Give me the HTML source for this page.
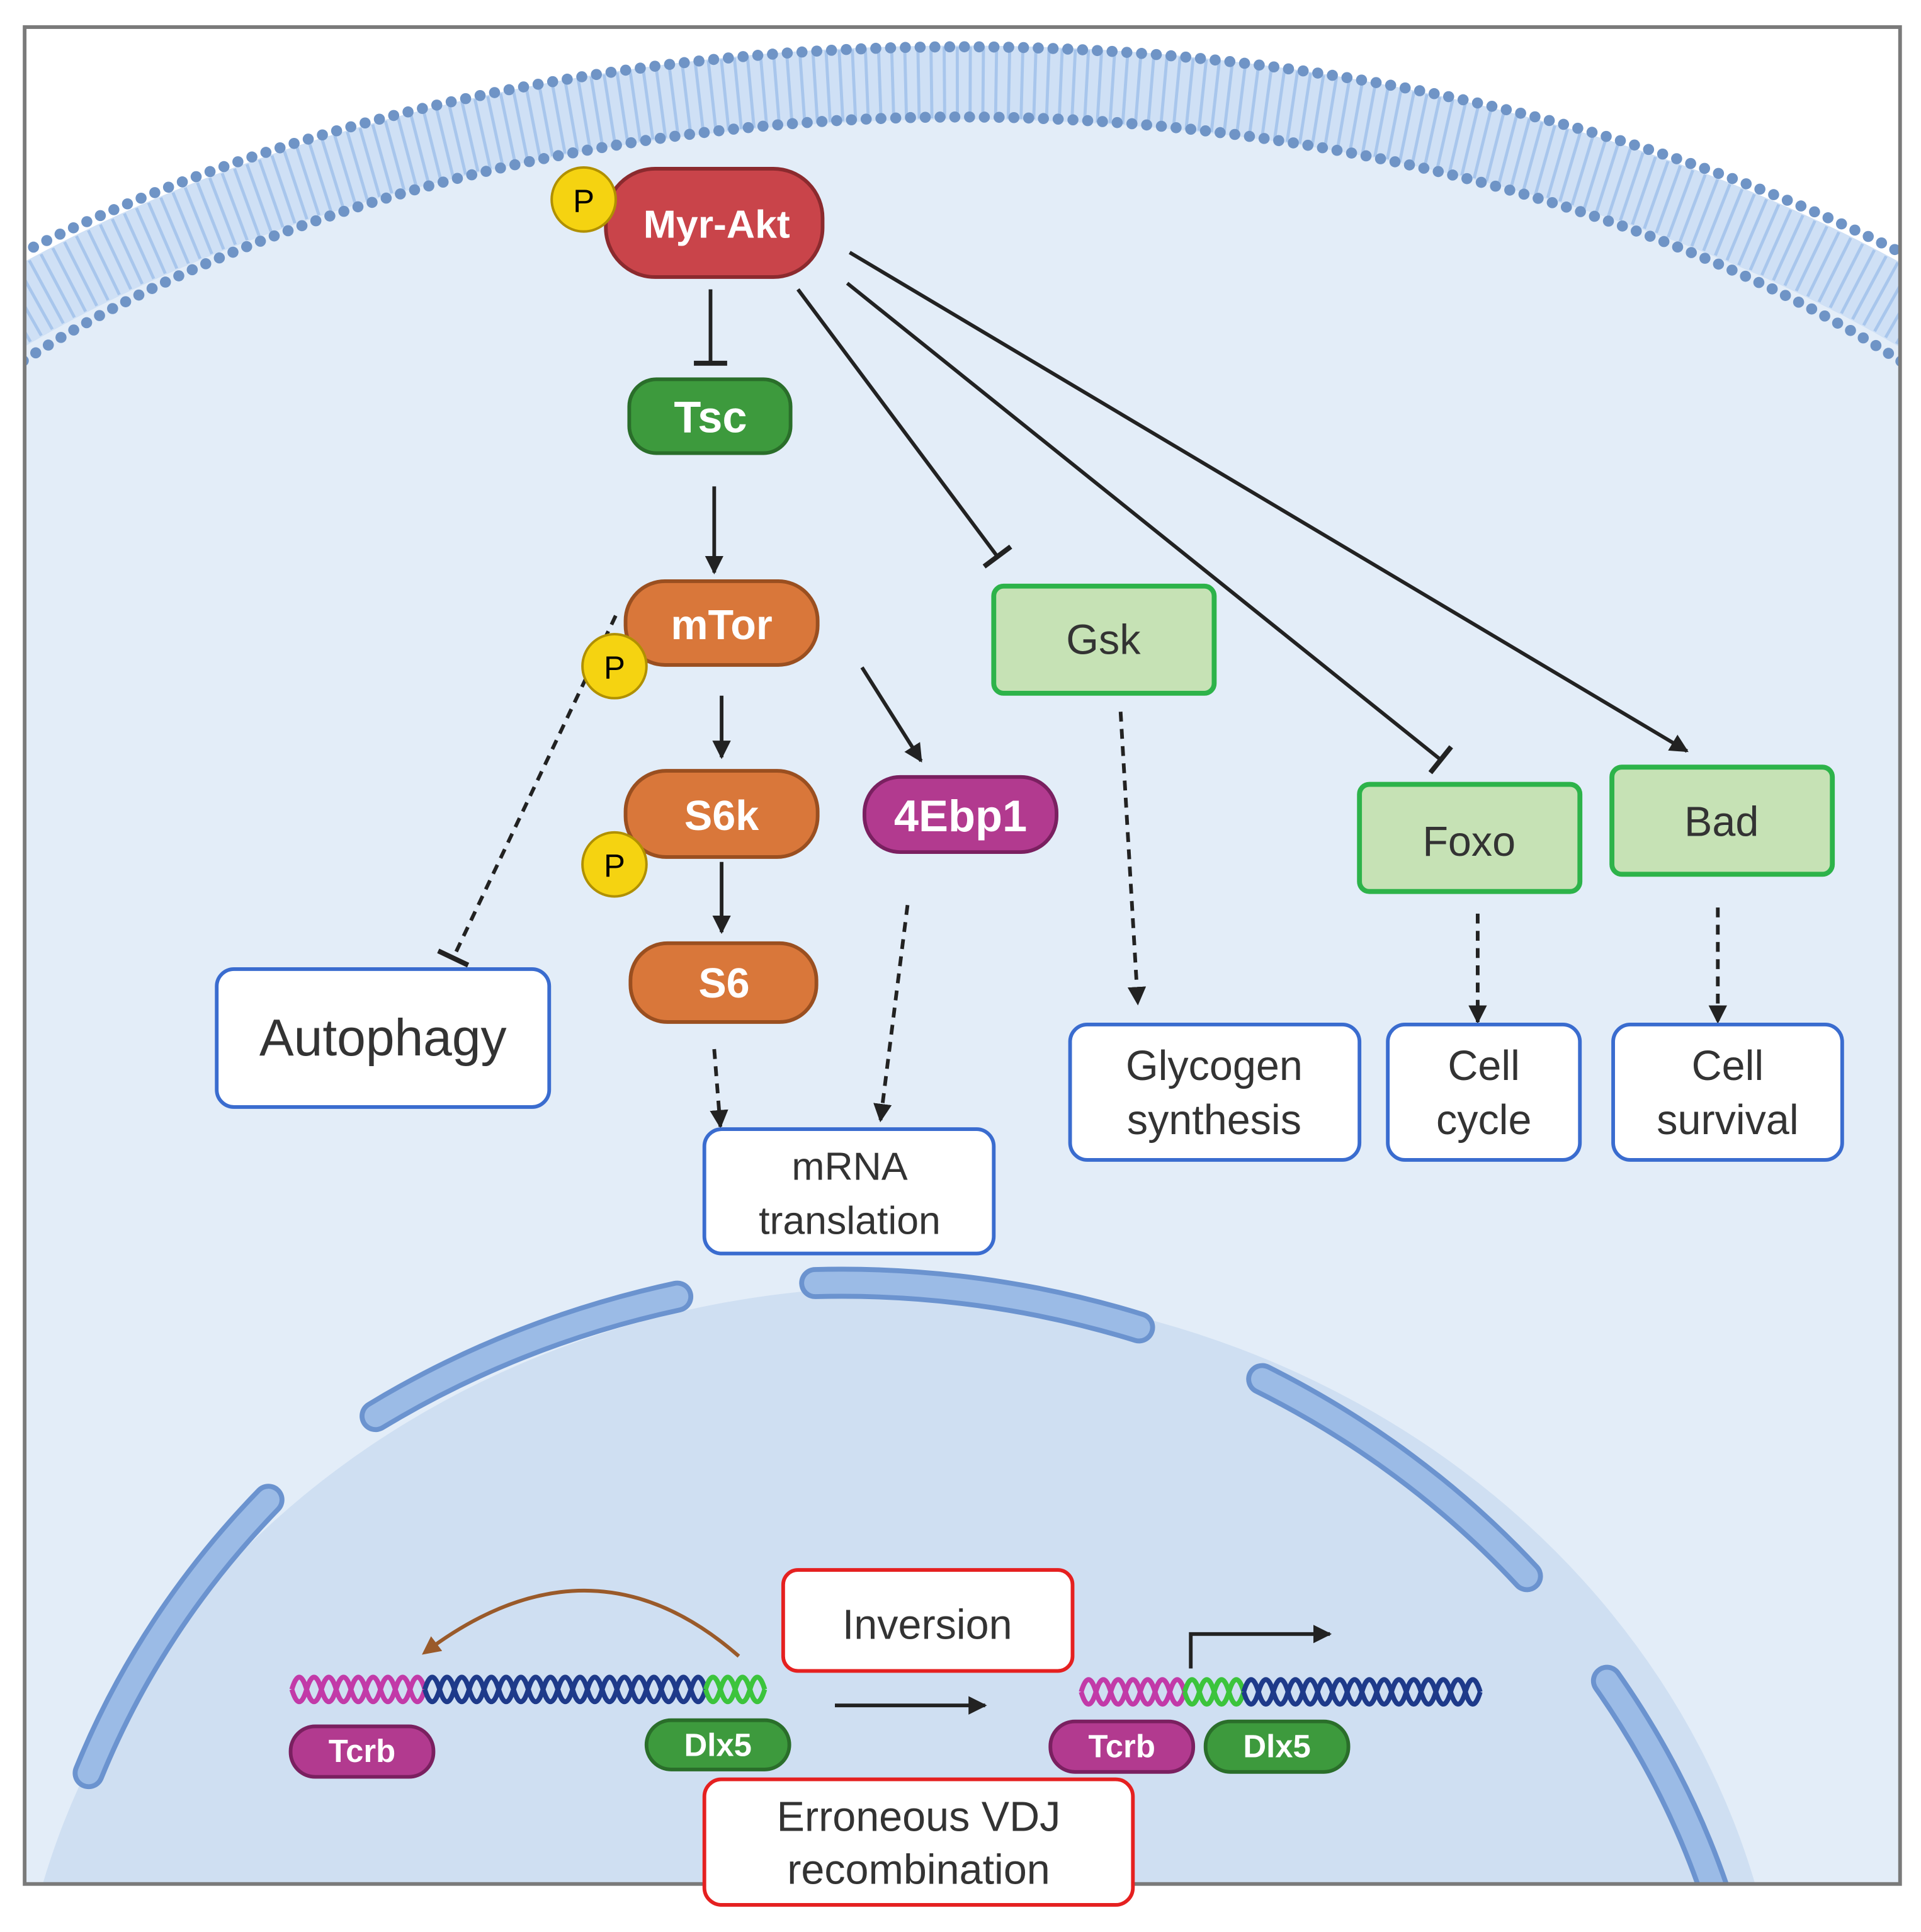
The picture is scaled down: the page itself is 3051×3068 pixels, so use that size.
<!DOCTYPE html>
<html><head><meta charset="utf-8"><style>
html,body{margin:0;padding:0;background:#fff;overflow:hidden;}
svg{display:block;}
text{font-family:"Liberation Sans",sans-serif;}
</style></head><body>
<svg width="3051" height="3068" viewBox="0 0 1560 1569" preserveAspectRatio="none" xmlns="http://www.w3.org/2000/svg">
<defs>
<clipPath id="fr"><rect x="20" y="22" width="1523" height="1508"/></clipPath>
<clipPath id="top"><rect x="0" y="0" width="1560" height="650"/></clipPath>
<marker id="a" viewBox="0 0 10 10" refX="9" refY="5" markerWidth="5" markerHeight="5" orient="auto"><path d="M0 0L10 5L0 10z" fill="#222"/></marker>
<marker id="ab" viewBox="0 0 10 10" refX="8" refY="5" markerWidth="5" markerHeight="5" orient="auto"><path d="M0 0L10 5L0 10z" fill="#9a5a2a"/></marker>
<marker id="t" viewBox="0 0 10 10" refX="5" refY="5" markerWidth="9" markerHeight="9" orient="auto"><path d="M5 0V10" stroke="#222" stroke-width="1.5"/></marker>
</defs>
<rect width="1560" height="1569" fill="#fff"/>
<g clip-path="url(#fr)">
<rect x="20" y="22" width="1523" height="1508" fill="#fff"/>
<rect x="0" y="600" width="1560" height="969" fill="#e3edf8"/>
<g clip-path="url(#top)">
<ellipse cx="781" cy="700" rx="1060" ry="620" fill="#e3edf8"/>
<ellipse cx="781" cy="700" rx="1090" ry="633" fill="none" stroke="#cfe0f5" stroke-width="60"/>
<ellipse cx="781" cy="700" rx="1090" ry="633" fill="none" stroke="#a8c6ec" stroke-width="58" stroke-dasharray="2.5 8"/>
<ellipse cx="781" cy="700" rx="1148" ry="662" fill="none" stroke="#6f94c6" stroke-width="9" stroke-linecap="round" stroke-dasharray="0 12"/>
<ellipse cx="781" cy="700" rx="1030" ry="605" fill="none" stroke="#6f94c6" stroke-width="9" stroke-linecap="round" stroke-dasharray="0 12"/>
</g>
<ellipse cx="730" cy="1700" rx="720" ry="655" fill="#cfdff2"/>
<g fill="none" stroke-linecap="round">
<g stroke="#6b93cf" stroke-width="26">
<path d="M72 1440 A760 700 0 0 1 218 1218"/>
<path d="M305 1150 A760 700 0 0 1 550 1053"/>
<path d="M662 1042 A760 700 0 0 1 925 1078"/>
<path d="M1025 1120 A760 700 0 0 1 1240 1280"/>
<path d="M1305 1365 A760 700 0 0 1 1400 1560"/>
</g>
<g stroke="#9bbbe6" stroke-width="18">
<path d="M72 1440 A760 700 0 0 1 218 1218"/>
<path d="M305 1150 A760 700 0 0 1 550 1053"/>
<path d="M662 1042 A760 700 0 0 1 925 1078"/>
<path d="M1025 1120 A760 700 0 0 1 1240 1280"/>
<path d="M1305 1365 A760 700 0 0 1 1400 1560"/>
</g>
</g>
</g>
<rect x="20" y="22" width="1523" height="1508" fill="none" stroke="#7a7a7a" stroke-width="3"/>

<g stroke="#222" stroke-width="3" fill="none">
<path d="M577 235V295" marker-end="url(#t)"/>
<path d="M580 395V465" marker-end="url(#a)"/>
<path d="M586 565V615" marker-end="url(#a)"/>
<path d="M586 700V757" marker-end="url(#a)"/>
<path d="M700 542L748 618" marker-end="url(#a)"/>
<path d="M500 500L368 778" stroke-dasharray="8 6" marker-end="url(#t)"/>
<path d="M580 852L585 915" stroke-dasharray="8 6" marker-end="url(#a)"/>
<path d="M737 735L715 910" stroke-dasharray="8 6" marker-end="url(#a)"/>
<path d="M648 235L810 452" marker-end="url(#t)"/>
<path d="M688 230L1170 617" marker-end="url(#t)"/>
<path d="M690 205L1370 610" marker-end="url(#a)"/>
<path d="M910 578L924 815" stroke-dasharray="8 6" marker-end="url(#a)"/>
<path d="M1200 742V830" stroke-dasharray="8 6" marker-end="url(#a)"/>
<path d="M1395 737V830" stroke-dasharray="8 6" marker-end="url(#a)"/>
<path d="M678 1385H800" marker-end="url(#a)"/>
<path d="M967 1355V1327H1080" marker-end="url(#a)"/>
<path d="M600 1345Q480 1240 345 1342" stroke="#9a5a2a" marker-end="url(#ab)"/>
</g>

<g font-weight="bold" fill="#fff" text-anchor="middle">
<rect x="492" y="137" width="176" height="88" rx="40" fill="#c9444a" stroke="#8b2a2e" stroke-width="3"/>
<text x="582" y="193" font-size="32" fill="#fff">Myr-Akt</text>
<rect x="511" y="308" width="131" height="60" rx="22" fill="#3d9a3d" stroke="#2a6e2a" stroke-width="3"/>
<text x="577" y="351" font-size="36" fill="#fff">Tsc</text>
<rect x="508" y="472" width="156" height="68" rx="32" fill="#d9773a" stroke="#9a4f20" stroke-width="3"/>
<text x="586" y="519" font-size="34" fill="#fff">mTor</text>
<rect x="508" y="626" width="156" height="70" rx="33" fill="#d9773a" stroke="#9a4f20" stroke-width="3"/>
<text x="586" y="674" font-size="34" fill="#fff">S6k</text>
<rect x="512" y="766" width="151" height="64" rx="30" fill="#d9773a" stroke="#9a4f20" stroke-width="3"/>
<text x="588" y="810" font-size="34" fill="#fff">S6</text>
<rect x="702" y="631" width="156" height="61" rx="29" fill="#b23a8f" stroke="#7a2060" stroke-width="3"/>
<text x="780" y="675" font-size="36" fill="#fff">4Ebp1</text>
</g>
<g text-anchor="middle" font-size="26">
<circle cx="474" cy="162" r="26" fill="#f5d311" stroke="#b09000" stroke-width="2"/><text x="474" y="172">P</text>
<circle cx="499" cy="541" r="26" fill="#f5d311" stroke="#b09000" stroke-width="2"/><text x="499" y="551">P</text>
<circle cx="499" cy="702" r="26" fill="#f5d311" stroke="#b09000" stroke-width="2"/><text x="499" y="712">P</text>
</g>

<g fill="#c6e2b5" stroke="#2db34a" stroke-width="4">
<rect x="807" y="476" width="179" height="87" rx="8"/>
<rect x="1104" y="637" width="179" height="87" rx="8"/>
<rect x="1309" y="623" width="179" height="87" rx="8"/>
</g>
<g text-anchor="middle" font-size="34" fill="#333">
<text x="896" y="531">Gsk</text>
<text x="1193" y="695">Foxo</text>
<text x="1398" y="679">Bad</text>
</g>

<g fill="#fff" stroke="#3a6ccf" stroke-width="3">
<rect x="176" y="787" width="270" height="112" rx="14"/>
<rect x="572" y="917" width="235" height="101" rx="14"/>
<rect x="869" y="832" width="235" height="110" rx="14"/>
<rect x="1127" y="832" width="156" height="110" rx="14"/>
<rect x="1310" y="832" width="186" height="110" rx="14"/>
</g>
<g fill="#fff" stroke="#e52020" stroke-width="3">
<rect x="636" y="1275" width="235" height="82" rx="12"/>
<rect x="572" y="1445" width="348" height="102" rx="14"/>
</g>
<g text-anchor="middle" fill="#333">
<text x="311" y="857" font-size="42">Autophagy</text>
<text x="690" y="958" font-size="32">mRNA</text>
<text x="690" y="1002" font-size="32">translation</text>
<text x="986" y="877" font-size="34">Glycogen</text>
<text x="986" y="921" font-size="34">synthesis</text>
<text x="1205" y="877" font-size="34">Cell</text>
<text x="1205" y="921" font-size="34">cycle</text>
<text x="1403" y="877" font-size="34">Cell</text>
<text x="1403" y="921" font-size="34">survival</text>
<text x="753" y="1331" font-size="34">Inversion</text>
<text x="746" y="1487" font-size="34">Erroneous VDJ</text>
<text x="746" y="1530" font-size="34">recombination</text>
</g>

<g fill="none" stroke-width="4">
<path d="M237 1372q6 -20 12 0t12 0t12 0t12 0t12 0t12 0t12 0t12 0t12 0" stroke="#c23aa8"/>
<path d="M237 1372q6 20 12 0t12 0t12 0t12 0t12 0t12 0t12 0t12 0t12 0" stroke="#c23aa8"/>
<path d="M345 1372q6 -20 12 0t12 0t12 0t12 0t12 0t12 0t12 0t12 0t12 0t12 0t12 0t12 0t12 0t12 0t12 0t12 0t12 0t12 0t12 0" stroke="#1e3a8a"/>
<path d="M345 1372q6 20 12 0t12 0t12 0t12 0t12 0t12 0t12 0t12 0t12 0t12 0t12 0t12 0t12 0t12 0t12 0t12 0t12 0t12 0t12 0" stroke="#1e3a8a"/>
<path d="M573 1372q6 -20 12 0t12 0t12 0t12 0" stroke="#3cc43c"/>
<path d="M573 1372q6 20 12 0t12 0t12 0t12 0" stroke="#3cc43c"/>
<path d="M878 1374q6 -20 12 0t12 0t12 0t12 0t12 0t12 0t12 0" stroke="#c23aa8"/>
<path d="M878 1374q6 20 12 0t12 0t12 0t12 0t12 0t12 0t12 0" stroke="#c23aa8"/>
<path d="M962 1374q6 -20 12 0t12 0t12 0t12 0" stroke="#3cc43c"/>
<path d="M962 1374q6 20 12 0t12 0t12 0t12 0" stroke="#3cc43c"/>
<path d="M1010 1374q6 -20 12 0t12 0t12 0t12 0t12 0t12 0t12 0t12 0t12 0t12 0t12 0t12 0t12 0t12 0t12 0t12 0" stroke="#1e3a8a"/>
<path d="M1010 1374q6 20 12 0t12 0t12 0t12 0t12 0t12 0t12 0t12 0t12 0t12 0t12 0t12 0t12 0t12 0t12 0t12 0" stroke="#1e3a8a"/>
</g>
<g stroke-width="3">
<rect x="236" y="1402" width="116" height="41" rx="20" fill="#b23a8f" stroke="#7a2060"/>
<rect x="525" y="1397" width="116" height="40" rx="20" fill="#3d9a3d" stroke="#2a6e2a"/>
<rect x="853" y="1398" width="116" height="41" rx="20" fill="#b23a8f" stroke="#7a2060"/>
<rect x="979" y="1398" width="116" height="41" rx="20" fill="#3d9a3d" stroke="#2a6e2a"/>
</g>
<g text-anchor="middle" font-size="26" font-weight="bold" fill="#fff">
<text x="294" y="1431">Tcrb</text>
<text x="583" y="1426">Dlx5</text>
<text x="911" y="1427">Tcrb</text>
<text x="1037" y="1427">Dlx5</text>
</g>
</svg>
</body></html>
